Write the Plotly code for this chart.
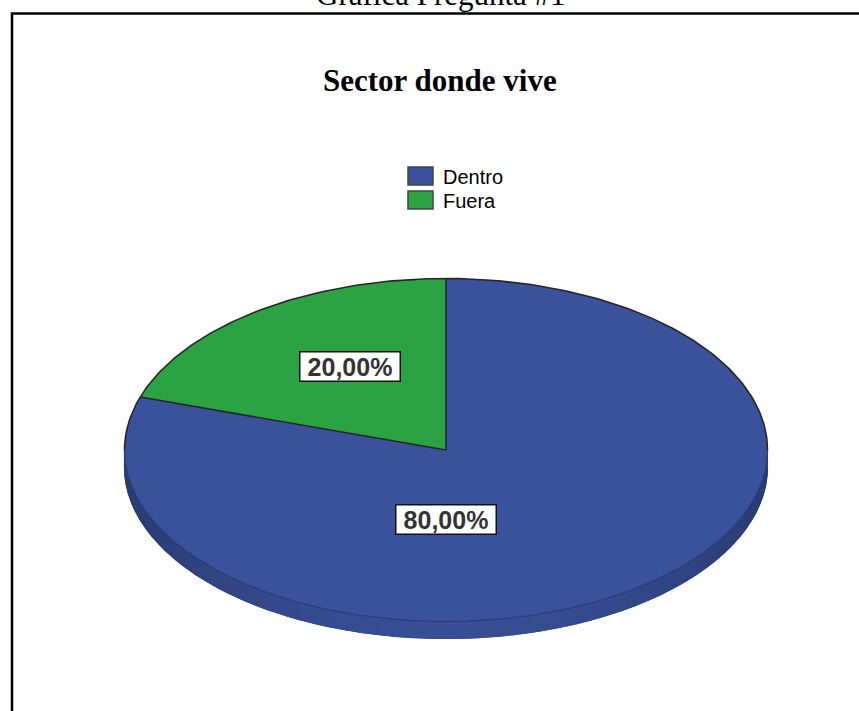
import numpy as np
import plotly.graph_objects as go

# ---- data ----
categories = ["Dentro", "Fuera"]
values = [80, 20]
value_labels = ["80,00%", "20,00%"]
chart_title = "Sector donde vive"
page_title = "Gráfica Pregunta #1"

# ---- styles ----
W, H = 859, 711
CX, CY, RX, RY, DEPTH = 446, 450, 321.5, 171.5, 17
slice_colors = ["#3A519B", "#2CA343"]
side_rgb = [(58, 81, 155), (44, 163, 67)]
d = DEPTH / RY

fig = go.Figure()

vals = np.array(values, dtype=float)
frac = vals / vals.sum()
bounds = 90 - 360 * np.concatenate([[0], np.cumsum(frac)])  # degrees, clockwise from 12 o'clock


def shade(rgb, f):
    r, g, b = rgb
    return f"rgb({int(r*f)},{int(g*f)},{int(b*f)})"


# --- 3D side (visible lower half only) ---
for i in range(len(values)):
    a0, a1 = bounds[i], bounds[i + 1]
    hi, lo = min(a0, 0), max(a1, -180)
    if lo >= hi:
        continue
    # base band underneath (hides seams between shading strips)
    t = np.radians(np.linspace(hi, lo, 200))
    xs = np.concatenate([np.cos(t), np.cos(t[::-1])])
    ys = np.concatenate([np.sin(t), np.sin(t[::-1]) - d])
    base = shade(side_rgb[i], 0.82)
    fig.add_trace(go.Scatter(x=xs, y=ys, fill="toself", fillcolor=base,
                             mode="lines", line=dict(color=base, width=1),
                             hoverinfo="skip", showlegend=False))
    nstrip = 60
    edges = np.linspace(hi, lo, nstrip + 1)
    for k in range(nstrip):
        t = np.radians(np.linspace(edges[k], edges[k + 1], 6))
        mid = np.radians((edges[k] + edges[k + 1]) / 2)
        f = 0.74 + 0.22 * abs(np.sin(mid)) ** 2
        col = shade(side_rgb[i], f)
        xs = np.concatenate([np.cos(t), np.cos(t[::-1])])
        ys = np.concatenate([np.sin(t), np.sin(t[::-1]) - d])
        fig.add_trace(go.Scatter(x=xs, y=ys, fill="toself", fillcolor=col,
                                 mode="lines", line=dict(color=col, width=1.2),
                                 hoverinfo="skip", showlegend=False))

# --- top surface slices ---
for i in range(len(values)):
    t = np.radians(np.linspace(bounds[i], bounds[i + 1], 200))
    xs = np.concatenate([[0], np.cos(t), [0]])
    ys = np.concatenate([[0], np.sin(t), [0]])
    fig.add_trace(go.Scatter(x=xs, y=ys, fill="toself", fillcolor=slice_colors[i],
                             mode="lines", line=dict(color=slice_colors[i], width=0),
                             name=categories[i], hoverinfo="name", showlegend=False))

# --- outlines ---
tu = np.radians(np.linspace(0, 180, 200))
fig.add_trace(go.Scatter(x=np.cos(tu), y=np.sin(tu), mode="lines",
                         line=dict(color="#262626", width=1.6), hoverinfo="skip", showlegend=False))
tl = np.radians(np.linspace(180, 360, 200))
fig.add_trace(go.Scatter(x=np.cos(tl), y=np.sin(tl), mode="lines",
                         line=dict(color="#2A3D78", width=1.2), hoverinfo="skip", showlegend=False))
for a in bounds[:-1]:
    ar = np.radians(a)
    fig.add_trace(go.Scatter(x=[0, np.cos(ar)], y=[0, np.sin(ar)], mode="lines",
                             line=dict(color="#262626", width=1.6), hoverinfo="skip", showlegend=False))


def px(x):
    return x / W


def py(y):
    return 1 - y / H


annotations = [
    dict(text=page_title, x=px(441), y=py(-6), xref="paper", yref="paper",
         showarrow=False, xanchor="center", yanchor="middle",
         font=dict(family="Liberation Serif, Times New Roman, serif", size=31, color="black")),
    dict(text="<b>" + chart_title + "</b>", x=px(440), y=py(80), xref="paper", yref="paper",
         showarrow=False, xanchor="center", yanchor="middle",
         font=dict(family="Liberation Serif, Times New Roman, serif", size=31, color="black")),
]

label_pos = [(446, 519), (350, 366)]
for i, lab in enumerate(value_labels):
    lx, ly = label_pos[i]
    annotations.append(dict(text="<b>" + lab + "</b>", x=px(lx), y=py(ly), xref="paper", yref="paper",
                            showarrow=False, xanchor="center", yanchor="middle",
                            width=99, height=28, bgcolor="white", bordercolor="#111",
                            borderwidth=1.5, borderpad=0,
                            font=dict(family="Liberation Sans, Arial, sans-serif", size=25, color="#333333")))

shapes = [
    dict(type="rect", xref="paper", yref="paper", x0=px(12), x1=1.2, y0=-0.2, y1=py(13.5),
         line=dict(color="black", width=2.5), fillcolor="rgba(0,0,0,0)"),
]

# manual legend
for i, cat in enumerate(categories):
    top = 167 + 24 * i
    shapes.append(dict(type="rect", xref="paper", yref="paper", x0=px(408), x1=px(433),
                       y0=py(top + 18), y1=py(top), fillcolor=slice_colors[i],
                       line=dict(color="#444444", width=1.5)))
    annotations.append(dict(text=cat, x=px(441), y=py(top + 9.5), xref="paper", yref="paper",
                            showarrow=False, xanchor="left", yanchor="middle",
                            font=dict(family="Liberation Sans, Arial, sans-serif", size=20, color="black")))

fig.update_layout(
    width=W, height=H, autosize=False,
    margin=dict(l=0, r=0, t=0, b=0),
    paper_bgcolor="white", plot_bgcolor="white",
    showlegend=False,
    xaxis=dict(range=[-CX / RX, (W - CX) / RX], visible=False, fixedrange=True, domain=[0, 1]),
    yaxis=dict(range=[(CY - H) / RY, CY / RY], visible=False, fixedrange=True, domain=[0, 1]),
    annotations=annotations,
    shapes=shapes,
)

fig.write_html("out.html")
